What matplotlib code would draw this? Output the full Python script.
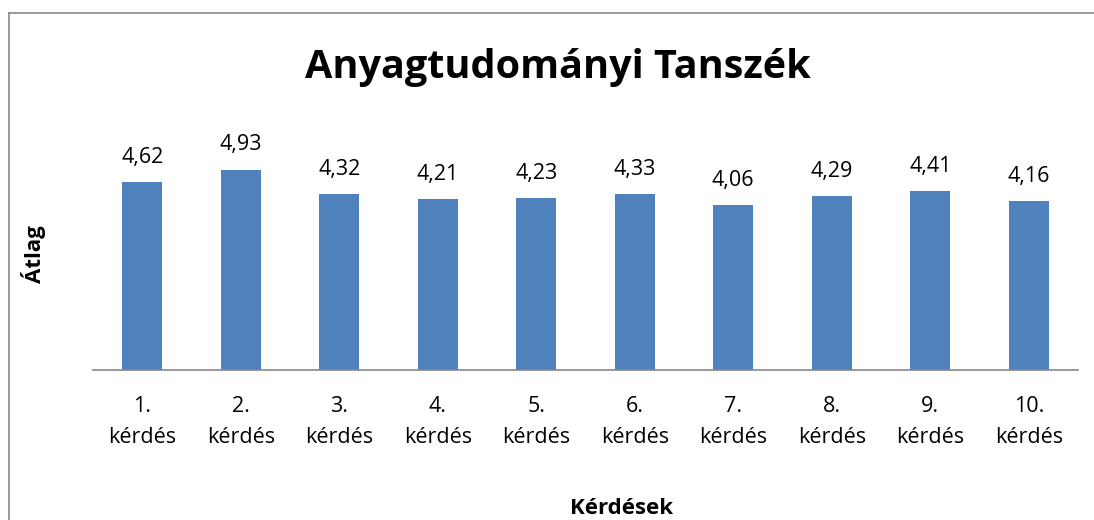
import matplotlib
matplotlib.use("Agg")
import matplotlib.pyplot as plt
from matplotlib.lines import Line2D

# adatok
kerdesek = ["1.\nkérdés", "2.\nkérdés", "3.\nkérdés", "4.\nkérdés", "5.\nkérdés",
            "6.\nkérdés", "7.\nkérdés", "8.\nkérdés", "9.\nkérdés", "10.\nkérdés"]
atlag = [4.62, 4.93, 4.32, 4.21, 4.23, 4.33, 4.06, 4.29, 4.41, 4.16]
cimkek = ["4,62", "4,93", "4,32", "4,21", "4,23", "4,33", "4,06", "4,29", "4,41", "4,16"]

plt.rcParams['font.family'] = ['Open Sans', 'DejaVu Sans']

fig = plt.figure(figsize=(10.94, 5.20), dpi=100)
W, H = 1094, 520
# plot area in pixels: x 93..1078, y 126..370
ax = fig.add_axes([93 / W, 1 - 370 / H, (1078 - 93) / W, (370 - 126) / H])

x = list(range(len(atlag)))
ax.bar(x, atlag, width=0.41, color="#4f81bd", zorder=2)
for xi, v, c in zip(x, atlag, cimkek):
    ax.annotate(c, (xi, v), xytext=(0, 13.7), textcoords="offset points",
                ha="center", va="baseline", fontsize=15.5, color="black")

ax.set_xlim(-0.5, len(atlag) - 0.5)
ax.set_ylim(0, 6)
ax.set_yticks([])
ax.set_xticks(x)
ax.set_xticklabels(kerdesek, fontsize=15.5, linespacing=1.62)
ax.tick_params(axis="x", length=0, pad=18.5)
for s in ["top", "right", "left"]:
    ax.spines[s].set_visible(False)
ax.spines["bottom"].set_color("#888888")
ax.spines["bottom"].set_linewidth(1.2)

fig.text(558 / W, 1 - 78 / H, "Anyagtudományi Tanszék", ha="center", va="baseline",
         fontsize=28.5, fontweight="bold")
fig.text(34 / W, 1 - 254 / H, "Átlag", ha="center", va="center", rotation=90,
         fontsize=16, fontweight="bold")
fig.text(622 / W, 1 - 514 / H, "Kérdések", ha="center", va="baseline",
         fontsize=16, fontweight="bold")

# chart border (left and top visible)
fig.add_artist(Line2D([9 / W, 9 / W], [0, 1 - 13 / H], transform=fig.transFigure,
                      color="#888888", linewidth=1.2))
fig.add_artist(Line2D([9 / W, 1], [1 - 13 / H, 1 - 13 / H], transform=fig.transFigure,
                      color="#888888", linewidth=1.2))

fig.savefig("out.png", dpi=100)
